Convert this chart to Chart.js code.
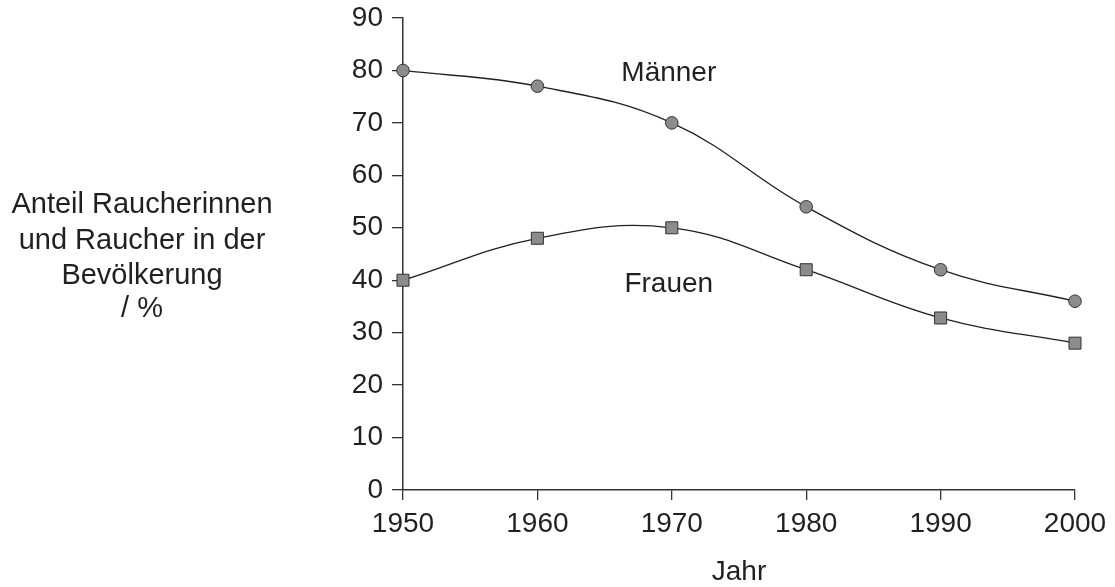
<!DOCTYPE html>
<html>
<head>
<meta charset="utf-8">
<script src="https://cdn.jsdelivr.net/npm/chart.js@4"></script>
<style>
  html, body { margin: 0; padding: 0; background: #fff; }
  #wrap { width: 1115px; height: 587px; position: relative; }
</style>
</head>
<body>
<div id="wrap"><canvas id="smokers"></canvas></div>
<script>
// data
const years = ['1950', '1960', '1970', '1980', '1990', '2000'];
const maenner = [80, 77, 70, 54, 42, 36];
const frauen = [40, 48, 50, 42, 32.8, 28];

// series names written inside the plot, at (year index, value)
const seriesNames = ['Männer', 'Frauen'];
const nameYearIdx = [2, 2];
const nameValues = [79.5, 39.2];

const yTitleLines = ['Anteil Raucherinnen', 'und Raucher in der', 'Bevölkerung', '/ %'];

const ink = '#231f20';
const fontFam = "'Liberation Sans', Arial, sans-serif";

// minor ticks on the y axis + in-plot labels + horizontal y title
const extras = {
    id: 'extras',
    afterDraw(chart) {
        const ctx = chart.ctx;
        const y = chart.scales.y;
        const x = chart.scales.x;
        ctx.save();
        ctx.strokeStyle = '#333';
        ctx.lineWidth = 1.3;
        y.ticks.forEach(t => {
            if (t.value % 10 !== 0) {
                const py = Math.round(y.getPixelForValue(t.value)) + 0.5;
                ctx.beginPath();
                ctx.moveTo(y.right - 8, py);
                ctx.lineTo(y.right, py);
                ctx.stroke();
            }
        });

        ctx.fillStyle = ink;
        ctx.font = '28px ' + fontFam;
        ctx.textAlign = 'center';
        ctx.textBaseline = 'middle';
        seriesNames.forEach((name, i) => {
            ctx.fillText(name, x.getPixelForValue(nameYearIdx[i]) - 3, y.getPixelForValue(nameValues[i]));
        });

        // y title is horizontal, left of the axis
        ctx.font = '29px ' + fontFam;
        ctx.textBaseline = 'alphabetic';
        const baselines = [213, 249, 284, 317];
        yTitleLines.forEach((line, i) => {
            ctx.fillText(line, 142, baselines[i]);
        });
        ctx.restore();
    }
};

const ctx = document.getElementById('smokers').getContext('2d');
new Chart(ctx, {
    type: 'line',
    data: {
        labels: years,
        datasets: [
            {
                label: 'Männer',
                data: maenner,
                borderColor: ink,
                borderWidth: 1.3,
                tension: 0.4,
                pointStyle: 'circle',
                pointRadius: 6.3,
                pointBackgroundColor: '#8c8c8c',
                pointBorderColor: '#333',
                pointBorderWidth: 1,
                clip: false
            },
            {
                label: 'Frauen',
                data: frauen,
                borderColor: ink,
                borderWidth: 1.3,
                tension: 0.4,
                pointStyle: 'rect',
                pointRadius: 8.5,
                pointBackgroundColor: '#8c8c8c',
                pointBorderColor: '#333',
                pointBorderWidth: 1,
                clip: false
            }
        ]
    },
    options: {
        responsive: true,
        maintainAspectRatio: false,
        animation: false,
        layout: {
            padding: { left: 343, right: 40, top: 18, bottom: 0 }
        },
        plugins: {
            legend: { display: false },
            tooltip: { enabled: false }
        },
        scales: {
            x: {
                grid: { drawOnChartArea: false, tickLength: 10, color: '#333', lineWidth: 1.3 },
                border: { color: '#333', width: 1.5 },
                ticks: { color: ink, font: { family: fontFam, size: 28 }, padding: 7, maxRotation: 0 },
                title: { display: true, text: 'Jahr', color: ink, font: { family: fontFam, size: 28, lineHeight: 1.05 }, padding: 0 },
                afterFit: s => { s.height = 97; }
            },
            y: {
                min: 0,
                max: 90,
                grid: {
                    drawOnChartArea: false,
                    tickLength: 11,
                    lineWidth: 1.3,
                    color: c => (c.tick && c.tick.value % 10 === 0) ? '#333' : 'rgba(0,0,0,0)'
                },
                border: { color: '#333', width: 1.5 },
                ticks: {
                    stepSize: 5,
                    color: ink,
                    font: { family: fontFam, size: 28 },
                    padding: 9,
                    callback: v => v % 10 === 0 ? v : ''
                },
                afterFit: s => { s.width = 60; s.paddingTop = 0; s.paddingBottom = 0; }
            }
        }
    },
    plugins: [extras]
});
</script>
</body>
</html>
